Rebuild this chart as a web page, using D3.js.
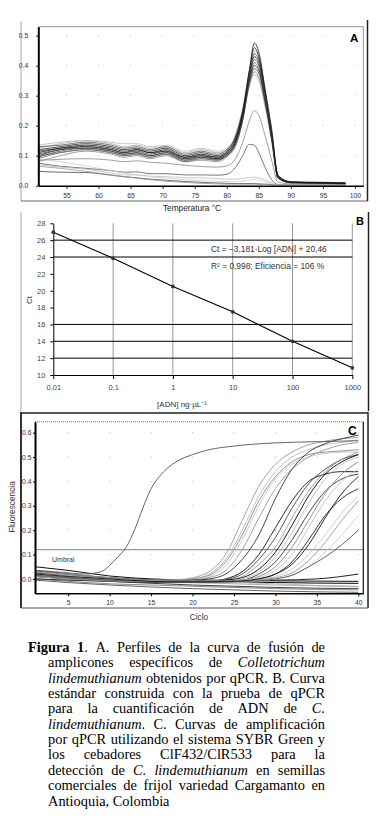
<!DOCTYPE html>
<html>
<head>
<meta charset="utf-8">
<script src="https://cdn.jsdelivr.net/npm/d3@7"></script>
<style>
  body { margin: 0; background: #fff; }
  svg { display: block; }
</style>
</head>
<body>
<div id="fig"></div>
<script>
// ---------- Panel A: melt curves ----------
const meltTemps = [50.6, 54, 58, 62, 64, 66, 68, 70.5, 73.5, 76, 78.5, 80, 81.5, 82.5, 83.5, 84.3, 85, 86, 87, 88, 90, 94, 98.5];
const meltCurves = [
  [0.085,0.088,0.090,0.085,0.080,0.083,0.078,0.075,0.068,0.064,0.062,0.066,0.095,0.145,0.215,0.250,0.235,0.165,0.085,0.012,0.006,0.005,0.005],
  [0.075,0.065,0.058,0.050,0.045,0.046,0.040,0.040,0.036,0.036,0.035,0.038,0.065,0.100,0.138,0.135,0.110,0.060,0.020,0.004,0.003,0.003,0.003],
  [0.048,0.045,0.044,0.035,0.030,0.026,0.022,0.018,0.014,0.011,0.009,0.008,0.007,0.007,0.007,0.007,0.006,0.005,0.004,0.003,0.003,0.003,0.003],
  [0.070,0.062,0.055,0.042,0.036,0.036,0.032,0.030,0.027,0.026,0.024,0.022,0.022,0.024,0.027,0.028,0.026,0.019,0.010,0.003,0.003,0.003,0.003],
  [0.090,0.080,0.066,0.050,0.042,0.036,0.030,0.025,0.020,0.017,0.015,0.014,0.014,0.016,0.019,0.021,0.019,0.013,0.007,0.003,0.003,0.003,0.003],
  [0.065,0.058,0.048,0.036,0.030,0.025,0.020,0.015,0.011,0.008,0.006,0.005,0.005,0.005,0.005,0.005,0.004,0.004,0.003,0.003,0.003,0.003,0.003],
  [0.135,0.145,0.150,0.145,0.140,0.140,0.130,0.135,0.115,0.125,0.115,0.125,0.170,0.250,0.340,0.370,0.350,0.260,0.150,0.025,0.010,0.008,0.008],
  [0.125,0.140,0.150,0.140,0.130,0.135,0.125,0.130,0.110,0.120,0.110,0.120,0.180,0.260,0.380,0.450,0.430,0.310,0.170,0.030,0.012,0.010,0.010],
  [0.080,0.100,0.115,0.105,0.095,0.100,0.090,0.100,0.080,0.085,0.080,0.095,0.140,0.220,0.350,0.430,0.410,0.300,0.180,0.035,0.012,0.010,0.008],
  [0.100,0.110,0.120,0.110,0.100,0.105,0.095,0.105,0.085,0.090,0.085,0.100,0.150,0.230,0.330,0.380,0.360,0.270,0.150,0.025,0.010,0.010,0.008],
  [0.105,0.120,0.125,0.115,0.105,0.110,0.100,0.110,0.090,0.095,0.090,0.105,0.150,0.230,0.340,0.390,0.375,0.280,0.160,0.030,0.012,0.010,0.008],
  [0.090,0.110,0.120,0.110,0.100,0.105,0.095,0.105,0.080,0.090,0.085,0.100,0.140,0.220,0.340,0.410,0.390,0.290,0.170,0.030,0.012,0.010,0.010],
  [0.130,0.135,0.145,0.135,0.125,0.130,0.120,0.130,0.105,0.115,0.105,0.120,0.170,0.250,0.360,0.420,0.400,0.290,0.160,0.030,0.014,0.012,0.010],
  [0.115,0.125,0.130,0.120,0.110,0.120,0.110,0.115,0.095,0.100,0.095,0.110,0.160,0.240,0.350,0.400,0.385,0.280,0.160,0.025,0.010,0.010,0.008],
  [0.095,0.115,0.125,0.115,0.105,0.110,0.100,0.110,0.085,0.095,0.088,0.100,0.150,0.220,0.350,0.430,0.410,0.290,0.160,0.025,0.010,0.008,0.006],
  [0.100,0.120,0.130,0.120,0.110,0.115,0.105,0.115,0.090,0.100,0.090,0.105,0.150,0.230,0.360,0.440,0.420,0.300,0.170,0.030,0.012,0.008,0.007],
  [0.120,0.130,0.140,0.130,0.120,0.125,0.115,0.125,0.100,0.110,0.100,0.115,0.170,0.250,0.380,0.460,0.430,0.310,0.170,0.030,0.010,0.010,0.008],
  [0.110,0.125,0.135,0.125,0.115,0.120,0.110,0.120,0.095,0.105,0.095,0.110,0.160,0.240,0.380,0.475,0.445,0.320,0.190,0.035,0.012,0.010,0.008]
];
const meltXTicks = [55, 60, 65, 70, 75, 80, 85, 90, 95, 100];
const meltYTicks = [0, 0.1, 0.2, 0.3, 0.4, 0.5];

// ---------- Panel B: standard curve ----------
const dnaConc = [0.01, 0.1, 1, 10, 100, 1000];
const ctValues = [26.95, 23.85, 20.5, 17.5, 14.0, 10.85];
const ctTicks = [10, 12, 14, 16, 18, 20, 22, 24, 26, 28];
const ctRules = [12, 14, 16, 24, 26];

// ---------- Panel C: amplification curves ----------
const earlyCycles = [1, 4, 7, 9, 10, 11, 12, 13, 14, 15, 16, 17, 18, 20, 22, 25, 30, 35, 40];
const earlyValues = [0.035,0.028,0.020,0.030,0.055,0.090,0.130,0.200,0.290,0.370,0.420,0.455,0.480,0.510,0.530,0.545,0.558,0.563,0.567];
const ampCycles = [1, 5, 10, 15, 18, 20, 22, 24, 26, 28, 30, 32, 34, 36, 38, 40];
const ampCurves = [
  [0.030,0.020,0.005,-0.005,-0.003,0.005,0.030,0.100,0.240,0.380,0.470,0.520,0.550,0.565,0.575,0.580],
  [0.020,0.010,0.000,-0.008,-0.005,0.000,0.020,0.080,0.200,0.340,0.440,0.500,0.530,0.550,0.560,0.570],
  [0.035,0.020,0.005,-0.005,-0.005,0.000,0.015,0.070,0.180,0.320,0.420,0.480,0.510,0.520,0.525,0.530],
  [0.010,0.005,-0.005,-0.010,-0.010,-0.005,0.010,0.055,0.160,0.300,0.410,0.470,0.500,0.515,0.520,0.520],
  [0.025,0.015,0.000,-0.008,-0.008,-0.005,0.005,0.035,0.120,0.250,0.370,0.450,0.500,0.530,0.550,0.560],
  [0.020,0.010,0.000,-0.008,-0.008,-0.005,0.000,0.020,0.080,0.180,0.330,0.450,0.520,0.555,0.575,0.590],
  [0.010,0.005,-0.005,-0.010,-0.012,-0.012,-0.010,0.000,0.030,0.100,0.210,0.320,0.400,0.430,0.440,0.440],
  [0.020,0.010,0.000,-0.008,-0.010,-0.010,-0.008,-0.002,0.020,0.080,0.170,0.290,0.390,0.450,0.490,0.510],
  [0.000,-0.005,-0.010,-0.012,-0.012,-0.010,-0.008,-0.005,0.010,0.060,0.130,0.250,0.360,0.440,0.490,0.520],
  [0.030,0.015,0.000,-0.008,-0.010,-0.010,-0.010,-0.005,0.005,0.040,0.110,0.220,0.340,0.430,0.480,0.510],
  [0.015,0.005,-0.005,-0.010,-0.010,-0.010,-0.010,-0.008,0.000,0.030,0.090,0.190,0.310,0.410,0.470,0.500],
  [0.025,0.010,-0.002,-0.010,-0.012,-0.012,-0.012,-0.010,-0.005,0.020,0.070,0.160,0.270,0.360,0.410,0.430],
  [0.010,0.000,-0.008,-0.012,-0.012,-0.012,-0.012,-0.010,-0.005,0.010,0.050,0.130,0.240,0.350,0.430,0.480],
  [0.020,0.010,0.000,-0.008,-0.010,-0.010,-0.010,-0.010,-0.005,0.005,0.035,0.100,0.210,0.320,0.400,0.450],
  [0.000,-0.005,-0.010,-0.015,-0.015,-0.015,-0.015,-0.012,-0.010,0.000,0.020,0.070,0.160,0.260,0.330,0.370],
  [0.030,0.015,0.000,-0.008,-0.010,-0.010,-0.010,-0.010,-0.008,-0.002,0.010,0.040,0.100,0.180,0.270,0.340],
  [0.010,0.000,-0.008,-0.012,-0.012,-0.012,-0.012,-0.012,-0.010,-0.005,0.005,0.025,0.075,0.150,0.240,0.320],
  [0.020,0.010,-0.002,-0.010,-0.012,-0.012,-0.012,-0.012,-0.010,-0.008,0.000,0.015,0.050,0.110,0.180,0.260],
  [0.015,0.005,-0.005,-0.010,-0.012,-0.012,-0.012,-0.012,-0.010,-0.008,0.000,0.015,0.050,0.090,0.140,0.200],
  [0.020,0.010,0.000,-0.010,-0.012,-0.012,-0.012,-0.010,-0.008,0.000,0.020,0.060,0.140,0.250,0.350,0.420]
];
const flatCycles = [1, 5, 10, 15, 20, 25, 30, 35, 40];
const flatCurves = [
  [0.050,0.035,0.012,0.000,-0.005,-0.007,-0.008,-0.009,-0.010],
  [0.020,0.010,-0.005,-0.008,-0.010,-0.012,-0.015,-0.017,-0.018],
  [0.000,-0.010,-0.020,-0.025,-0.030,-0.035,-0.040,-0.043,-0.045],
  [0.010,0.000,-0.010,-0.018,-0.025,-0.030,-0.035,-0.038,-0.040],
  [0.030,0.018,0.005,-0.005,-0.010,-0.015,-0.020,-0.027,-0.033],
  [0.035,0.020,0.005,-0.003,-0.005,-0.006,-0.005,0.000,0.020],
  [-0.005,-0.015,-0.025,-0.033,-0.040,-0.045,-0.050,-0.053,-0.055],
  [0.015,0.005,-0.005,-0.012,-0.015,-0.020,-0.025,-0.028,-0.030]
];
const umbral = 0.12;
const ampXTicks = [5, 10, 15, 20, 25, 30, 35, 40];
const ampYTicks = [0, 0.1, 0.2, 0.3, 0.4, 0.5, 0.6];

// ---------- Caption ----------
const captionLines = [
  "**Figura 1**. A. Perfiles de la curva de fusión de",
  "amplicones específicos de *Colletotrichum*",
  "*lindemuthianum* obtenidos por qPCR.  B. Curva",
  "estándar construida con la prueba de qPCR",
  "para la cuantificación de ADN de *C.*",
  "*lindemuthianum*. C. Curvas de amplificación",
  "por qPCR utilizando el sistema SYBR Green y",
  "los cebadores ClF432/ClR533 para la",
  "detección de *C. lindemuthianum* en semillas",
  "comerciales de frijol variedad Cargamanto en",
  "Antioquia, Colombia"
];

const W = 380, H = 837;
const sans = "'Liberation Sans', Arial, sans-serif";
const svg = d3.select("#fig").append("svg").attr("width", W).attr("height", H);
svg.append("rect").attr("width", W).attr("height", H).attr("fill", "#fff");

function styleAxis(g, size, color) {
  g.selectAll("text").attr("font-family", sans).attr("font-size", size).attr("fill", color);
  g.selectAll("line").attr("stroke", "#000");
}

// ================= Panel A =================
const xA = d3.scaleLinear().domain([50.6, 101.3]).range([38.3, 363.3]);
const yA = d3.scaleLinear().domain([0, 0.53]).range([185.7, 26.7]);
const gA = svg.append("g");

gA.append("line").attr("x1", 21).attr("x2", 21).attr("y1", 21).attr("y2", 201).attr("stroke", "#aaa");
gA.append("line").attr("x1", 21).attr("x2", 368).attr("y1", 201).attr("y2", 201).attr("stroke", "#666");
gA.append("line").attr("x1", 367.5).attr("x2", 367.5).attr("y1", 20).attr("y2", 201).attr("stroke", "#222").attr("stroke-width", 1.5);

gA.selectAll(".gdot").data(d3.cross(meltXTicks, meltYTicks.slice(1))).join("rect")
  .attr("x", d => xA(d[0]) - 0.5).attr("y", d => yA(d[1]) - 0.5)
  .attr("width", 1).attr("height", 1).attr("fill", "#bbb");

gA.append("line").attr("x1", xA(50.6)).attr("x2", xA(101.3)).attr("y1", yA(0.53)).attr("y2", yA(0.53)).attr("stroke", "#999");
gA.append("line").attr("x1", xA(101.3)).attr("x2", xA(101.3)).attr("y1", yA(0.53)).attr("y2", yA(0)).attr("stroke", "#999");

const meltColor = d3.scaleOrdinal().domain(d3.range(meltCurves.length))
  .range(["#888", "#555", "#444", "#bbb", "#ccc", "#999", "#bbb", "#aaa", "#888",
          "#777", "#3a3a3a", "#666", "#555", "#2a2a2a", "#444", "#333", "#222", "#111"]);
const meltLine = d3.line().x((d, i) => xA(meltTemps[i])).y(d => yA(d)).curve(d3.curveMonotoneX);
gA.selectAll(".melt").data(meltCurves).join("path")
  .attr("d", meltLine).attr("fill", "none")
  .attr("stroke", (d, i) => meltColor(i)).attr("stroke-width", 0.8);

const axA = gA.append("g").attr("transform", `translate(0,${yA(0)})`)
  .call(d3.axisBottom(xA).tickValues(meltXTicks).tickSize(3).tickSizeOuter(0).tickPadding(4));
axA.select(".domain").attr("stroke", "#000").attr("stroke-width", 1.5);
styleAxis(axA, 6.8, "#333");
const ayA = gA.append("g").attr("transform", `translate(${xA(50.6)},0)`)
  .call(d3.axisLeft(yA).tickValues(meltYTicks).tickFormat(d3.format(".1f")).tickSize(2).tickSizeOuter(0).tickPadding(8));
ayA.select(".domain").attr("stroke", "#000").attr("stroke-width", 2);
styleAxis(ayA, 6.8, "#333");

gA.append("text").attr("x", 192).attr("y", 211).attr("text-anchor", "middle")
  .attr("font-family", sans).attr("font-size", 8.3).attr("fill", "#222").text("Temperatura °C");
gA.append("text").attr("x", 350).attr("y", 42).attr("font-family", sans).attr("font-weight", "bold")
  .attr("font-size", 11.5).attr("fill", "#000").text("A");

// ================= Panel B =================
const xB = d3.scaleLog().domain([0.01, 1000]).range([53.3, 352.3]);
const yB = d3.scaleLinear().domain([10, 28]).range([375, 223.3]);
const gB = svg.append("g");

gB.append("line").attr("x1", 21).attr("x2", 21).attr("y1", 212).attr("y2", 411).attr("stroke", "#aaa");
gB.append("line").attr("x1", 368.5).attr("x2", 368.5).attr("y1", 212).attr("y2", 411).attr("stroke", "#222").attr("stroke-width", 1.5);

gB.selectAll(".vgrid").data(dnaConc.slice(1)).join("line")
  .attr("x1", d => xB(d)).attr("x2", d => xB(d)).attr("y1", yB(28)).attr("y2", yB(10))
  .attr("stroke", "#999").attr("stroke-width", 1);
gB.selectAll(".hrule").data(ctRules).join("line")
  .attr("x1", xB(0.01)).attr("x2", xB(1000)).attr("y1", d => yB(d)).attr("y2", d => yB(d))
  .attr("stroke", "#000").attr("stroke-width", 1);

const commaFmt = d3.formatLocale({ decimal: ",", thousands: "", grouping: [3], currency: ["", ""] }).format("~g");
const axB = gB.append("g").attr("transform", `translate(0,${yB(10)})`)
  .call(d3.axisBottom(xB).tickValues(dnaConc).tickFormat(commaFmt).tickSize(4).tickSizeOuter(0).tickPadding(6));
axB.select(".domain").attr("stroke", "#000");
styleAxis(axB, 7.5, "#444");
const ayB = gB.append("g").attr("transform", `translate(${xB(0.01)},0)`)
  .call(d3.axisLeft(yB).tickValues(ctTicks).tickSize(3).tickSizeOuter(0).tickPadding(5));
ayB.select(".domain").attr("stroke", "#000");
styleAxis(ayB, 7.5, "#444");

const ctLine = d3.line().x((d, i) => xB(dnaConc[i])).y(d => yB(d));
gB.append("path").datum(ctValues).attr("d", ctLine).attr("fill", "none").attr("stroke", "#000").attr("stroke-width", 1.1);
gB.selectAll(".pt").data(ctValues).join("circle")
  .attr("cx", (d, i) => xB(dnaConc[i])).attr("cy", d => yB(d)).attr("r", 1.9).attr("fill", "#333");

gB.append("text").attr("x", 211).attr("y", 252).attr("font-family", sans).attr("font-size", 8.4).attr("fill", "#333")
  .text("Ct = \u22123,181·Log [ADN] + 20,46");
gB.append("text").attr("x", 211).attr("y", 269).attr("font-family", sans).attr("font-size", 8.4).attr("fill", "#333")
  .text("R² = 0,998;  Eficiencia = 106 %");
gB.append("text").attr("transform", "translate(32,300) rotate(-90)").attr("text-anchor", "middle")
  .attr("font-family", sans).attr("font-size", 8).attr("fill", "#333").text("Ct");
gB.append("text").attr("x", 182).attr("y", 407).attr("text-anchor", "middle")
  .attr("font-family", sans).attr("font-size", 8).attr("fill", "#333").text("[ADN] ng·µL⁻¹");
gB.append("text").attr("x", 356).attr("y", 225).attr("font-family", sans).attr("font-weight", "bold")
  .attr("font-size", 11).attr("fill", "#000").text("B");

// ================= Panel C =================
const xC = d3.scaleLinear().domain([1, 40.6]).range([35, 363.3]);
const yC = d3.scaleLinear().domain([-0.059, 0.645]).range([593.3, 421.7]);
const gC = svg.append("g");

gC.append("line").attr("x1", 21).attr("x2", 368).attr("y1", 413).attr("y2", 413).attr("stroke", "#222").attr("stroke-width", 1.5);
gC.append("line").attr("x1", 21).attr("x2", 21).attr("y1", 412).attr("y2", 608).attr("stroke", "#333").attr("stroke-width", 2);
gC.append("line").attr("x1", 368).attr("x2", 368).attr("y1", 412).attr("y2", 608).attr("stroke", "#222").attr("stroke-width", 1.5);
gC.append("line").attr("x1", 21).attr("x2", 368).attr("y1", 608).attr("y2", 608).attr("stroke", "#555");

gC.selectAll(".gdot").data(d3.cross(ampXTicks, ampYTicks.slice(1))).join("rect")
  .attr("x", d => xC(d[0]) - 0.5).attr("y", d => yC(d[1]) - 0.5)
  .attr("width", 1).attr("height", 1).attr("fill", "#bbb");

gC.append("line").attr("x1", xC(1)).attr("x2", xC(40.6)).attr("y1", yC(umbral)).attr("y2", yC(umbral))
  .attr("stroke", "#999").attr("stroke-width", 1.2);
gC.append("text").attr("x", 52).attr("y", 562).attr("font-family", sans).attr("font-size", 7)
  .attr("fill", "#333").text("Umbral");

const flatColor = d3.scaleOrdinal().domain(d3.range(flatCurves.length))
  .range(["#111", "#000", "#888", "#444", "#bbb", "#222", "#666", "#aaa"]);
const flatLine = d3.line().x((d, i) => xC(flatCycles[i])).y(d => yC(d)).curve(d3.curveMonotoneX);
gC.selectAll(".flat").data(flatCurves).join("path")
  .attr("d", flatLine).attr("fill", "none").attr("stroke", (d, i) => flatColor(i)).attr("stroke-width", 1);

const ampColor = d3.scaleOrdinal().domain(d3.range(ampCurves.length))
  .range(["#999", "#bbb", "#888", "#c4c4c4", "#999", "#333", "#111", "#444", "#999", "#000",
          "#bbb", "#333", "#888", "#c0c0c0", "#222", "#c8c8c8", "#999", "#ccc", "#555", "#111"]);
const ampLine = d3.line().x((d, i) => xC(ampCycles[i])).y(d => yC(d)).curve(d3.curveMonotoneX);
gC.selectAll(".amp").data(ampCurves).join("path")
  .attr("d", ampLine).attr("fill", "none").attr("stroke", (d, i) => ampColor(i)).attr("stroke-width", 0.9);

const earlyLine = d3.line().x((d, i) => xC(earlyCycles[i])).y(d => yC(d)).curve(d3.curveMonotoneX);
gC.append("path").datum(earlyValues).attr("d", earlyLine).attr("fill", "none")
  .attr("stroke", "#555").attr("stroke-width", 0.9);

// plot frame
gC.append("line").attr("x1", xC(1)).attr("x2", xC(40.6)).attr("y1", yC(0.645)).attr("y2", yC(0.645))
  .attr("stroke", "#777").attr("stroke-dasharray", "1,1");
gC.append("line").attr("x1", xC(40.6)).attr("x2", xC(40.6)).attr("y1", yC(0.645)).attr("y2", yC(-0.059))
  .attr("stroke", "#111").attr("stroke-width", 1.2);

const axC = gC.append("g").attr("transform", `translate(0,${yC(-0.059)})`)
  .call(d3.axisBottom(xC).tickValues(ampXTicks).tickSize(3).tickSizeOuter(0).tickPadding(4));
axC.select(".domain").attr("stroke", "#000").attr("stroke-width", 1.5);
styleAxis(axC, 6.8, "#333");
const ayC = gC.append("g").attr("transform", `translate(${xC(1)},0)`)
  .call(d3.axisLeft(yC).tickValues(ampYTicks).tickFormat(d3.format(".1f")).tickSize(2).tickSizeOuter(0).tickPadding(1.5));
ayC.select(".domain").attr("stroke", "#000").attr("stroke-width", 2);
styleAxis(ayC, 6.8, "#333");

gC.append("text").attr("x", 199).attr("y", 620).attr("text-anchor", "middle")
  .attr("font-family", sans).attr("font-size", 8.3).attr("fill", "#333").text("Ciclo");
gC.append("text").attr("transform", "translate(15,507) rotate(-90)").attr("text-anchor", "middle")
  .attr("font-family", sans).attr("font-size", 8.3).attr("fill", "#333").text("Fluorescencia");
gC.append("text").attr("x", 348).attr("y", 435).attr("font-family", sans).attr("font-weight", "bold")
  .attr("font-size", 12).attr("fill", "#000").text("C");

// ================= Caption (justified) =================
function parseWords(line) {
  let bold = false, italic = false, buf = "", cur = [];
  const words = [];
  const flush = () => { if (buf) { cur.push({ t: buf, bold, italic }); buf = ""; } };
  for (let i = 0; i < line.length; i++) {
    if (line.startsWith("**", i)) { flush(); bold = !bold; i++; continue; }
    if (line[i] === "*") { flush(); italic = !italic; continue; }
    if (line[i] === " ") { flush(); if (cur.length) { words.push(cur); cur = []; } continue; }
    buf += line[i];
  }
  flush();
  if (cur.length) words.push(cur);
  return words;
}

const serif = "'Liberation Serif', 'Times New Roman', serif";
const capSize = 14.4, capTop = 652, capStep = 15.35, capRight = 325;
const gCap = svg.append("g");
captionLines.forEach((line, li) => {
  const x0 = li === 0 ? 28 : 48;
  const words = parseWords(line);
  const text = gCap.append("text").attr("y", capTop + li * capStep)
    .attr("font-family", serif).attr("font-size", capSize).attr("fill", "#000");
  const widths = words.map(word => {
    let w = 0;
    word.forEach((run, ri) => {
      const ts = text.append("tspan").text(run.t)
        .attr("font-weight", run.bold ? "bold" : "normal")
        .attr("font-style", run.italic ? "italic" : "normal");
      run.node = ts;
      w += ts.node().getComputedTextLength();
    });
    return w;
  });
  const total = d3.sum(widths);
  const last = li === captionLines.length - 1;
  const gap = last || words.length < 2 ? capSize * 0.25 : (capRight - x0 - total) / (words.length - 1);
  let x = x0;
  words.forEach((word, wi) => {
    word[0].node.attr("x", x);
    x += widths[wi] + gap;
  });
});
</script>
</body>
</html>
